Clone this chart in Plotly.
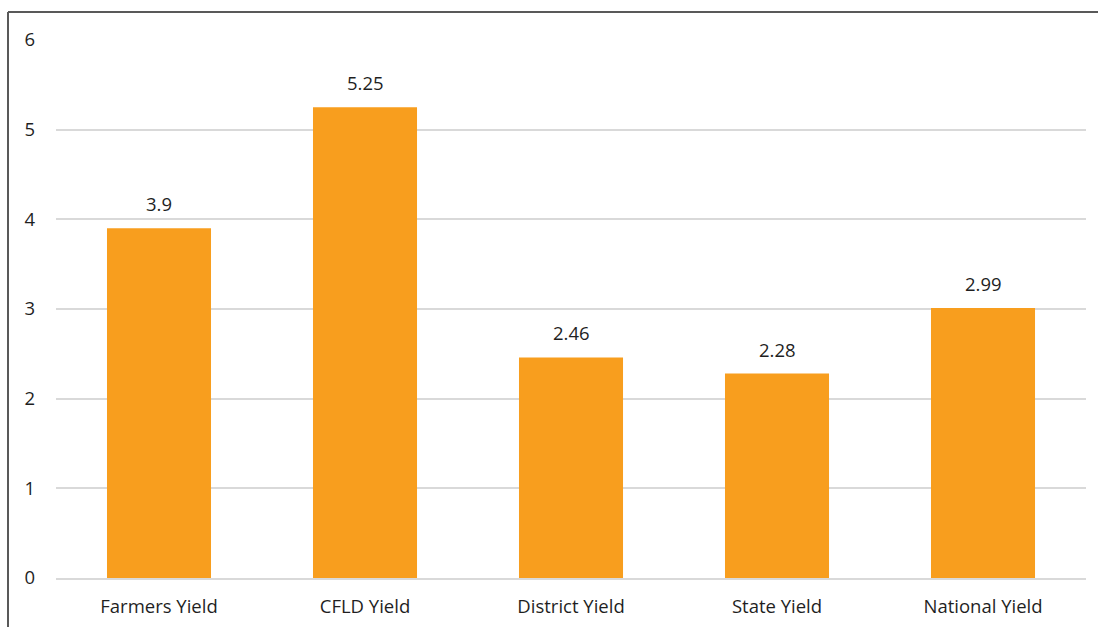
import plotly.graph_objects as go

categories = ["Farmers Yield", "CFLD Yield", "District Yield", "State Yield", "National Yield"]
values = [3.9, 5.25, 2.46, 2.28, 3.01]
value_labels = ["3.9", "5.25", "2.46", "2.28", "2.99"]
y_ticks = [0, 1, 2, 3, 4, 5, 6]

font_family = "Open Sans, Noto Sans, sans-serif"
text_color = "#1f1f1f"
fs = 18.5

fig = go.Figure()
fig.add_trace(go.Bar(
    x=categories, y=values,
    marker=dict(color="#F89E1E", line=dict(width=0)),
    hoverinfo="skip",
))

for c, v, lab in zip(categories, values, value_labels):
    fig.add_annotation(x=c, y=v, text=lab, showarrow=False, yanchor="bottom",
                       yshift=10, font=dict(size=fs, color=text_color, family=font_family))

fig.update_layout(
    width=1098, height=627,
    margin=dict(l=56, r=12, t=40, b=49),
    paper_bgcolor="white", plot_bgcolor="white",
    bargap=0.495,
    showlegend=False,
    font=dict(family=font_family, size=fs, color=text_color),
    xaxis=dict(showgrid=False, showline=True, linecolor="#D9D9D9", linewidth=2, automargin=False,
               ticks="", tickfont=dict(size=fs, color=text_color), ticklabelstandoff=11),
    yaxis=dict(range=[0, 6], tickvals=y_ticks, showgrid=True, gridcolor="#D9D9D9", gridwidth=1.5,
               zeroline=False, showline=False, ticks="", automargin=False,
               tickfont=dict(size=fs, color=text_color), ticklabelstandoff=20),
    shapes=[
        dict(type="line", xref="paper", yref="paper", x0=-48/1030, x1=1.02, y0=1+28/538, y1=1+28/538,
             line=dict(color="#595959", width=2)),
        dict(type="line", xref="paper", yref="paper", x0=-48/1030, x1=-48/1030, y0=1+28/538, y1=-0.1,
             line=dict(color="#595959", width=2)),
    ],
)

fig.write_html("out.html")
